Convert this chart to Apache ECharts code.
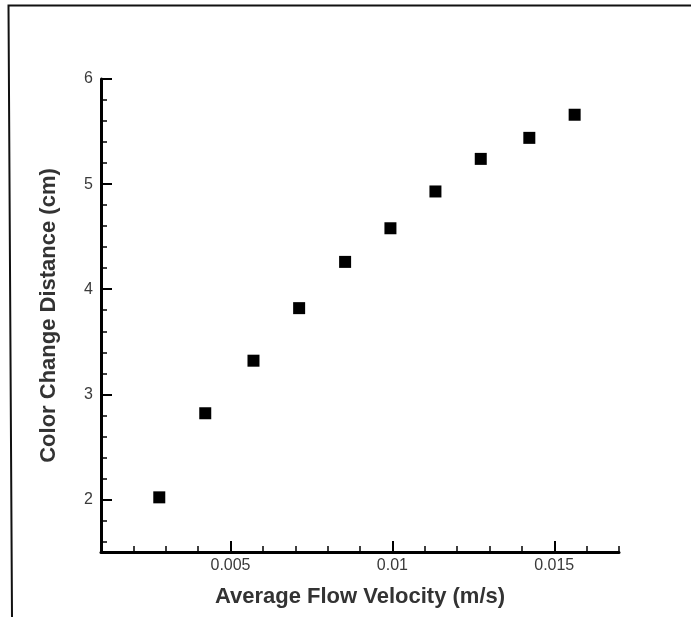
<!DOCTYPE html>
<html>
<head>
<meta charset="utf-8">
<script src="https://cdn.jsdelivr.net/npm/echarts@6/dist/echarts.min.js"></script>
<style>
html,body{margin:0;padding:0;background:#fff;}
#chart{width:691px;height:617px;}
</style>
</head>
<body>
<div id="chart"></div>
<script>
// ---- data ----
var velocity = [0.0028, 0.00422, 0.00571, 0.00712, 0.00854, 0.00994, 0.01133, 0.01273, 0.01423, 0.01563];
var distance = [2.02, 2.82, 3.32, 3.82, 4.26, 4.58, 4.93, 5.24, 5.44, 5.66];

var xMajorTicks = [0.005, 0.01, 0.015];
var xTickLabels = ["0.005", "0.01", "0.015"];
var xMinorTicks = [0.002, 0.003, 0.004, 0.006, 0.007, 0.008, 0.009, 0.011, 0.012, 0.013, 0.014, 0.016, 0.017];
var yMajorTicks = [2, 3, 4, 5, 6];
var yTickLabels = ["2", "3", "4", "5", "6"];
var yMinorTicks = [1.6, 1.8, 2.2, 2.4, 2.6, 2.8, 3.2, 3.4, 3.6, 3.8, 4.2, 4.4, 4.6, 4.8, 5.2, 5.4, 5.6, 5.8];

var xTitle = "Average Flow Velocity (m/s)";
var yTitle = "Color Change Distance (cm)";

var points = velocity.map(function (v, i) { return [v, distance[i]]; });

function labelFor(values, labels) {
  return function (v) {
    for (var i = 0; i < values.length; i++) {
      if (Math.abs(values[i] - v) < 1e-9) return labels[i];
    }
    return '';
  };
}

var chart = echarts.init(document.getElementById('chart'), null, {renderer: 'canvas'});
var labelFont = {fontFamily: 'Liberation Sans', fontSize: 16, color: '#3a3a3a'};
var titleFont = {fontFamily: 'Liberation Sans', fontSize: 22, fontWeight: 'bold', color: '#333'};

chart.setOption({
  backgroundColor: '#fff',
  animation: false,
  grid: {left: 101, right: 72, top: 79, bottom: 65, containLabel: false},
  graphic: [{
    type: 'polyline',
    shape: {points: [[12, 617], [8.5, 5.5], [691, 5.5]]},
    style: {stroke: '#111', lineWidth: 2, fill: null},
    silent: true
  }],
  xAxis: [{
    type: 'value', min: 0.001, max: 0.017, position: 'bottom',
    name: xTitle, nameLocation: 'middle', nameGap: 34,
    nameTextStyle: titleFont,
    axisLine: {show: true, onZero: false, lineStyle: {color: '#000', width: 3}},
    axisTick: {show: true, inside: true, length: 11, customValues: xMajorTicks, lineStyle: {color: '#000', width: 2}},
    axisLabel: Object.assign({show: true, margin: 6, customValues: xMajorTicks, formatter: labelFor(xMajorTicks, xTickLabels)}, labelFont),
    splitLine: {show: false}
  }, {
    type: 'value', min: 0.001, max: 0.017, position: 'bottom',
    axisLine: {show: false, onZero: false},
    axisTick: {show: true, inside: true, length: 6, customValues: xMinorTicks, lineStyle: {color: '#000', width: 1.5}},
    axisLabel: {show: false},
    splitLine: {show: false}
  }],
  yAxis: [{
    type: 'value', min: 1.5, max: 6, position: 'left',
    name: yTitle, nameLocation: 'middle', nameGap: 41, nameRotate: 90,
    nameTextStyle: titleFont,
    axisLine: {show: true, onZero: false, lineStyle: {color: '#000', width: 3}},
    axisTick: {show: true, inside: true, length: 11, customValues: yMajorTicks, lineStyle: {color: '#000', width: 2}},
    axisLabel: Object.assign({show: true, margin: 8, customValues: yMajorTicks, formatter: labelFor(yMajorTicks, yTickLabels)}, labelFont),
    splitLine: {show: false}
  }, {
    type: 'value', min: 1.5, max: 6, position: 'left',
    axisLine: {show: false, onZero: false},
    axisTick: {show: true, inside: true, length: 6, customValues: yMinorTicks, lineStyle: {color: '#000', width: 1.5}},
    axisLabel: {show: false},
    splitLine: {show: false}
  }],
  series: [{
    type: 'scatter',
    xAxisIndex: 0, yAxisIndex: 0,
    data: points,
    symbol: 'rect',
    symbolSize: 12,
    itemStyle: {color: '#000', opacity: 1}
  }]
});
</script>
</body>
</html>
